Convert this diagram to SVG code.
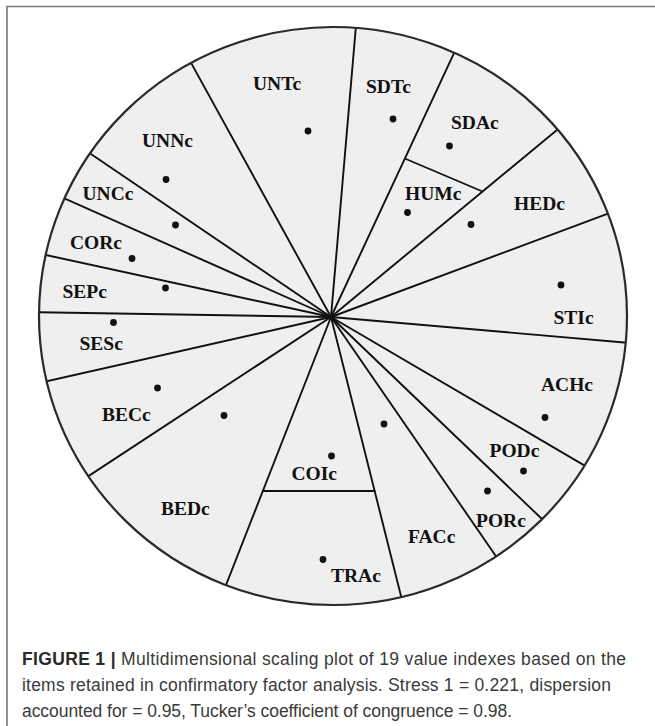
<svg xmlns="http://www.w3.org/2000/svg" width="655" height="726" viewBox="0 0 655 726">
  <defs>
    <clipPath id="disc">
      <ellipse cx="333" cy="316" rx="294" ry="289"/>
    </clipPath>
  </defs>
  <style>
    .frame { stroke: #7a7a7a; stroke-width: 1.6; fill: none; }
    .disc { fill: #efefef; stroke: none; }
    .rim { fill: none; stroke: #2a2a2a; stroke-width: 2.2; }
    .spoke { stroke: #111; stroke-width: 1.9; fill: none; stroke-linecap: round; }
    .lbl { font-family: "Liberation Serif", "Times New Roman", serif; font-weight: bold; font-size: 19.5px; fill: #111; }
    .dot { fill: #111; }
    .cap { font-family: "Liberation Sans", Arial, sans-serif; font-size: 17.5px; fill: #3a3a3a; }
    .capb { font-weight: bold; fill: #2a2a2a; }
  </style>
  <rect width="655" height="726" fill="#ffffff"/>
  <path class="frame" d="M655,6.5 H7 V726"/>

  <ellipse class="disc" cx="333" cy="316" rx="294" ry="289"/>

  <g id="connectors" clip-path="url(#disc)">
    <line class="spoke" x1="331" y1="317" x2="358" y2="2.1"/>
    <line class="spoke" x1="331" y1="317" x2="465.9" y2="27.7"/>
    <line class="spoke" x1="331" y1="317" x2="578.1" y2="112.4"/>
    <line class="spoke" x1="331" y1="317" x2="634.6" y2="203.7"/>
    <line class="spoke" x1="331" y1="317" x2="656.2" y2="345.3"/>
    <line class="spoke" x1="331" y1="317" x2="610.2" y2="480.6"/>
    <line class="spoke" x1="331" y1="317" x2="564.2" y2="540.3"/>
    <line class="spoke" x1="331" y1="317" x2="513.6" y2="581.8"/>
    <line class="spoke" x1="331" y1="317" x2="408.9" y2="627.5"/>
    <line class="spoke" x1="331" y1="317" x2="215.1" y2="612.9"/>
    <line class="spoke" x1="331" y1="317" x2="64.8" y2="491.6"/>
    <line class="spoke" x1="331" y1="317" x2="19.7" y2="387.4"/>
    <line class="spoke" x1="331" y1="317" x2="10.6" y2="311.8"/>
    <line class="spoke" x1="331" y1="317" x2="17.5" y2="248.8"/>
    <line class="spoke" x1="331" y1="317" x2="39.1" y2="187.2"/>
    <line class="spoke" x1="331" y1="317" x2="67" y2="137.7"/>
    <line class="spoke" x1="331" y1="317" x2="177.3" y2="37.9"/>
    <line class="spoke" x1="406" y1="159" x2="482.5" y2="191.5"/>
    <line class="spoke" x1="263" y1="491" x2="374.6" y2="491"/>
  </g>

  <ellipse class="rim" cx="333" cy="316" rx="294" ry="289"/>

  <g id="UNTc"><text class="lbl" x="253" y="90">UNTc</text><circle class="dot" cx="308" cy="131" r="3.4"/></g>
  <g id="SDTc"><text class="lbl" x="366" y="93">SDTc</text><circle class="dot" cx="393" cy="119" r="3.4"/></g>
  <g id="SDAc"><text class="lbl" x="451" y="129">SDAc</text><circle class="dot" cx="449.5" cy="146" r="3.4"/></g>
  <g id="HUMc"><text class="lbl" x="405" y="200">HUMc</text><circle class="dot" cx="407.5" cy="212.5" r="3.4"/></g>
  <g id="HEDc"><text class="lbl" x="514" y="210">HEDc</text><circle class="dot" cx="471" cy="224.5" r="3.4"/></g>
  <g id="STIc"><text class="lbl" x="553.5" y="324">STIc</text><circle class="dot" cx="561" cy="285" r="3.4"/></g>
  <g id="ACHc"><text class="lbl" x="541" y="391">ACHc</text><circle class="dot" cx="545" cy="417.5" r="3.4"/></g>
  <g id="PODc"><text class="lbl" x="489.5" y="457">PODc</text><circle class="dot" cx="523.5" cy="471" r="3.4"/></g>
  <g id="PORc"><text class="lbl" x="476" y="527">PORc</text><circle class="dot" cx="487.5" cy="491" r="3.4"/></g>
  <g id="FACc"><text class="lbl" x="408" y="543">FACc</text><circle class="dot" cx="384" cy="424" r="3.4"/></g>
  <g id="COIc"><text class="lbl" x="291.5" y="480">COIc</text><circle class="dot" cx="331.5" cy="456" r="3.4"/></g>
  <g id="TRAc"><text class="lbl" x="331" y="582">TRAc</text><circle class="dot" cx="323" cy="559.5" r="3.4"/></g>
  <g id="BEDc"><text class="lbl" x="161" y="515">BEDc</text><circle class="dot" cx="224" cy="415.5" r="3.4"/></g>
  <g id="BECc"><text class="lbl" x="102" y="421">BECc</text><circle class="dot" cx="157.5" cy="388" r="3.4"/></g>
  <g id="SESc"><text class="lbl" x="79.5" y="350">SESc</text><circle class="dot" cx="113.5" cy="322.5" r="3.4"/></g>
  <g id="SEPc"><text class="lbl" x="62.5" y="297.5">SEPc</text><circle class="dot" cx="165.5" cy="288" r="3.4"/></g>
  <g id="CORc"><text class="lbl" x="70" y="249">CORc</text><circle class="dot" cx="132" cy="258.5" r="3.4"/></g>
  <g id="UNCc"><text class="lbl" x="82.5" y="200">UNCc</text><circle class="dot" cx="175.5" cy="225" r="3.4"/></g>
  <g id="UNNc"><text class="lbl" x="142" y="146.5">UNNc</text><circle class="dot" cx="166" cy="179.5" r="3.4"/></g>

  <g id="caption">
    <text class="cap" x="22" y="665" textLength="604"><tspan class="capb">FIGURE 1 |</tspan> Multidimensional scaling plot of 19 value indexes based on the</text>
    <text class="cap" x="22" y="691" textLength="589">items retained in confirmatory factor analysis. Stress 1 = 0.221, dispersion</text>
    <text class="cap" x="22" y="717" textLength="490">accounted for = 0.95, Tucker’s coefficient of congruence = 0.98.</text>
  </g>
</svg>
